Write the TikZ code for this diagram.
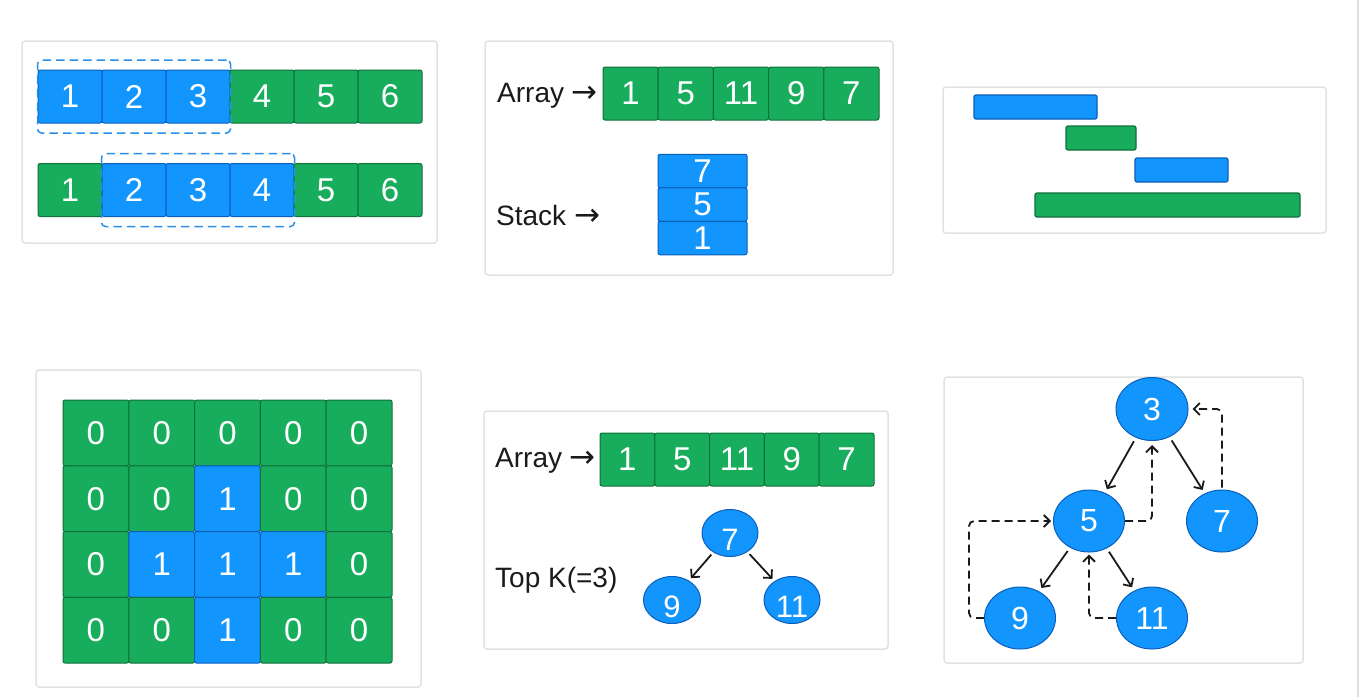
\documentclass[tikz,border=0pt]{standalone}
\usepackage{fontspec}
\setmainfont{Liberation Sans}
\newfontfamily\arrfont{DejaVu Sans}
\usetikzlibrary{arrows.meta,fit,shapes.geometric,calc}
\definecolor{gfill}{HTML}{18AD5C}
\definecolor{gline}{HTML}{10703B}
\definecolor{bfill}{HTML}{1296FE}
\definecolor{bline}{HTML}{0B5EB8}
\definecolor{framec}{HTML}{E2E2E2}
\definecolor{ink}{HTML}{1A1A1A}
\definecolor{dashc}{HTML}{2A8FE6}
\definecolor{edgec}{HTML}{DDDDDD}
\newcommand{\rarr}{{\arrfont\fontsize{31}{31}\selectfont →}}
\begin{document}
\begin{tikzpicture}[x=1pt,y=-1pt,
  panel/.style={draw=framec, line width=1.5pt, rounded corners=3pt},
  cellbase/.style={rounded corners=2pt, line width=1pt, inner sep=0pt, text=white, font=\fontsize{33}{33}\selectfont},
  gcell/.style={cellbase, draw=gline, fill=gfill},
  bcell/.style={cellbase, draw=bline, fill=bfill},
  dashbox/.style={draw=dashc, line width=1.5pt, dash pattern=on 8.5pt off 5pt, rounded corners=4pt, inner xsep=0pt, inner ysep=9.5pt},
  lbl/.style={text=ink, font=\fontsize{28}{28}\selectfont, inner sep=0pt, anchor=west},
  bar/.style={rounded corners=2pt, line width=1.2pt, inner sep=0pt, minimum height=24pt},
  gbar/.style={bar, draw=gline, fill=gfill},
  bbar/.style={bar, draw=bline, fill=bfill},
  hnode/.style={ellipse, draw=bline, fill=bfill, line width=1pt, inner sep=0pt, text=white},
  tip/.style={-{Straight Barb[length=6pt,width=12pt]}, line width=1.8pt, ink},
]
\useasboundingbox (0,0) rectangle (1359,697);
\fill[white] (0,0) rectangle (1359,697);
\draw[edgec, line width=2pt] (1358,0) -- (1358,697);

% ---------------- Panel 1: sliding window
\draw[panel] (22,41) rectangle (437,243);
\tikzset{p1/.style={minimum width=64pt, minimum height=53pt}}
\node[bcell,p1] (a1) at (70,96.5) {1};
\node[bcell,p1] (a2) at (134,96.5) {2};
\node[bcell,p1] (a3) at (198,96.5) {3};
\node[gcell,p1] (a4) at (262,96.5) {4};
\node[gcell,p1] (a5) at (326,96.5) {5};
\node[gcell,p1] (a6) at (390,96.5) {6};
\node[gcell,p1] (b1) at (70,190) {1};
\node[bcell,p1] (b2) at (134,190) {2};
\node[bcell,p1] (b3) at (198,190) {3};
\node[bcell,p1] (b4) at (262,190) {4};
\node[gcell,p1] (b5) at (326,190) {5};
\node[gcell,p1] (b6) at (390,190) {6};
\node[dashbox, fit=(a1)(a3)] (w1) {};
\node[dashbox, fit=(b2)(b4)] (w2) {};

% ---------------- Panel 2: array and stack
\draw[panel] (485,41) rectangle (893,275);
\tikzset{p2/.style={minimum width=55.2pt, minimum height=53pt}}
\node[lbl] (arrlbl) at (497,96) {Array \rarr};
\node[gcell,p2] (s1) at (630.6,93.5) {1};
\node[gcell,p2] (s2) at (685.8,93.5) {5};
\node[gcell,p2] (s3) at (741.0,93.5) {11};
\node[gcell,p2] (s4) at (796.2,93.5) {9};
\node[gcell,p2] (s5) at (851.4,93.5) {7};
\node[lbl] (stklbl) at (496,215) {Stack \rarr};
\tikzset{p2s/.style={minimum width=89pt, minimum height=33.5pt}}
\node[bcell,p2s] (k1) at (702.5,171) {7};
\node[bcell,p2s] (k2) at (702.5,204.5) {5};
\node[bcell,p2s] (k3) at (702.5,238) {1};

% ---------------- Panel 3: intervals
\draw[panel] (943,87) rectangle (1326,233);
\node[bbar, minimum width=123pt] (i1) at (1035.5,107) {};
\node[gbar, minimum width=70pt] (i2) at (1101,138) {};
\node[bbar, minimum width=93pt] (i3) at (1181.5,170) {};
\node[gbar, minimum width=265pt] (i4) at (1167.5,205) {};

% ---------------- Panel 4: grid
\draw[panel] (36,370) rectangle (421,687);
\foreach \r in {0,...,3}{
  \foreach \c in {0,...,4}{
    \pgfmathtruncatemacro\isb{((\c==2)&&(\r>=1))||((\r==2)&&(\c>=1)&&(\c<=3))}
    \ifnum\isb=1
      \node[bcell, minimum width=65.8pt, minimum height=65.75pt] (g\r\c) at ({95.9+65.8*\c},{432.9+65.75*\r}) {1};
    \else
      \node[gcell, minimum width=65.8pt, minimum height=65.75pt] (g\r\c) at ({95.9+65.8*\c},{432.9+65.75*\r}) {0};
    \fi
  }
}

% ---------------- Panel 5: top K heap
\draw[panel] (484,411) rectangle (888,649);
\tikzset{p5/.style={minimum width=54.8pt, minimum height=53pt}}
\node[lbl] (arrlbl2) at (495,461) {Array \rarr};
\node[gcell,p5] (t1) at (627.4,459.5) {1};
\node[gcell,p5] (t2) at (682.2,459.5) {5};
\node[gcell,p5] (t3) at (737.0,459.5) {11};
\node[gcell,p5] (t4) at (791.8,459.5) {9};
\node[gcell,p5] (t5) at (846.6,459.5) {7};
\node[lbl] (topk) at (495,580) {Top K(=3)};
\tikzset{p5h/.style={hnode, minimum width=56pt, minimum height=47pt},
         hlab/.style={label={[text=white, font=\fontsize{31}{31}\selectfont, inner sep=0pt, yshift=-7pt]center:#1}}}
\node[p5h, hlab=7] (h7) at (730,533) {};
\node[p5h, hlab=9, minimum width=57pt] (h9) at (672,600) {};
\node[p5h, hlab=11] (h11) at (792,600) {};
\draw[tip, shorten <=3pt, shorten >=3pt] (h7) -- (h9);
\draw[tip, shorten <=3pt, shorten >=3pt] (h7) -- (h11);

% ---------------- Panel 6: tree traversal
\draw[panel] (944,377) rectangle (1303,663);
\tikzset{p6/.style={hnode, minimum width=71pt, minimum height=62pt, font=\fontsize{32}{32}\selectfont}}
\node[p6, minimum width=72pt, minimum height=63pt] (n3) at (1152,409) {3};
\node[p6] (n5) at (1089,521) {5};
\node[p6] (n7) at (1222,521) {7};
\node[p6] (n9) at (1020,618) {9};
\node[p6] (n11) at (1152,618) {11};
\draw[tip, shorten <=4pt, shorten >=4pt] (n3) -- (n5);
\draw[tip, shorten <=4pt, shorten >=4pt] (n3) -- (n7);
\draw[tip, shorten <=4pt, shorten >=4pt] (n5) -- (n9);
\draw[tip, shorten <=4pt, shorten >=4pt] (n5) -- (n11);
\tikzset{dtip/.style={tip, dash pattern=on 8pt off 5pt, rounded corners=5pt}}
\draw[dtip, shorten >=2pt] (n9.west) -- ++(-15,0) |- (n5.west);
\draw[dtip, shorten >=4pt] (n5.east) -| (n3.south);
\draw[dtip, shorten <=2pt, shorten >=4pt] (n7.north) |- (n3.east);
\draw[dtip, shorten >=2pt] (n11.west) -| (n5.south);
\end{tikzpicture}
\end{document}
